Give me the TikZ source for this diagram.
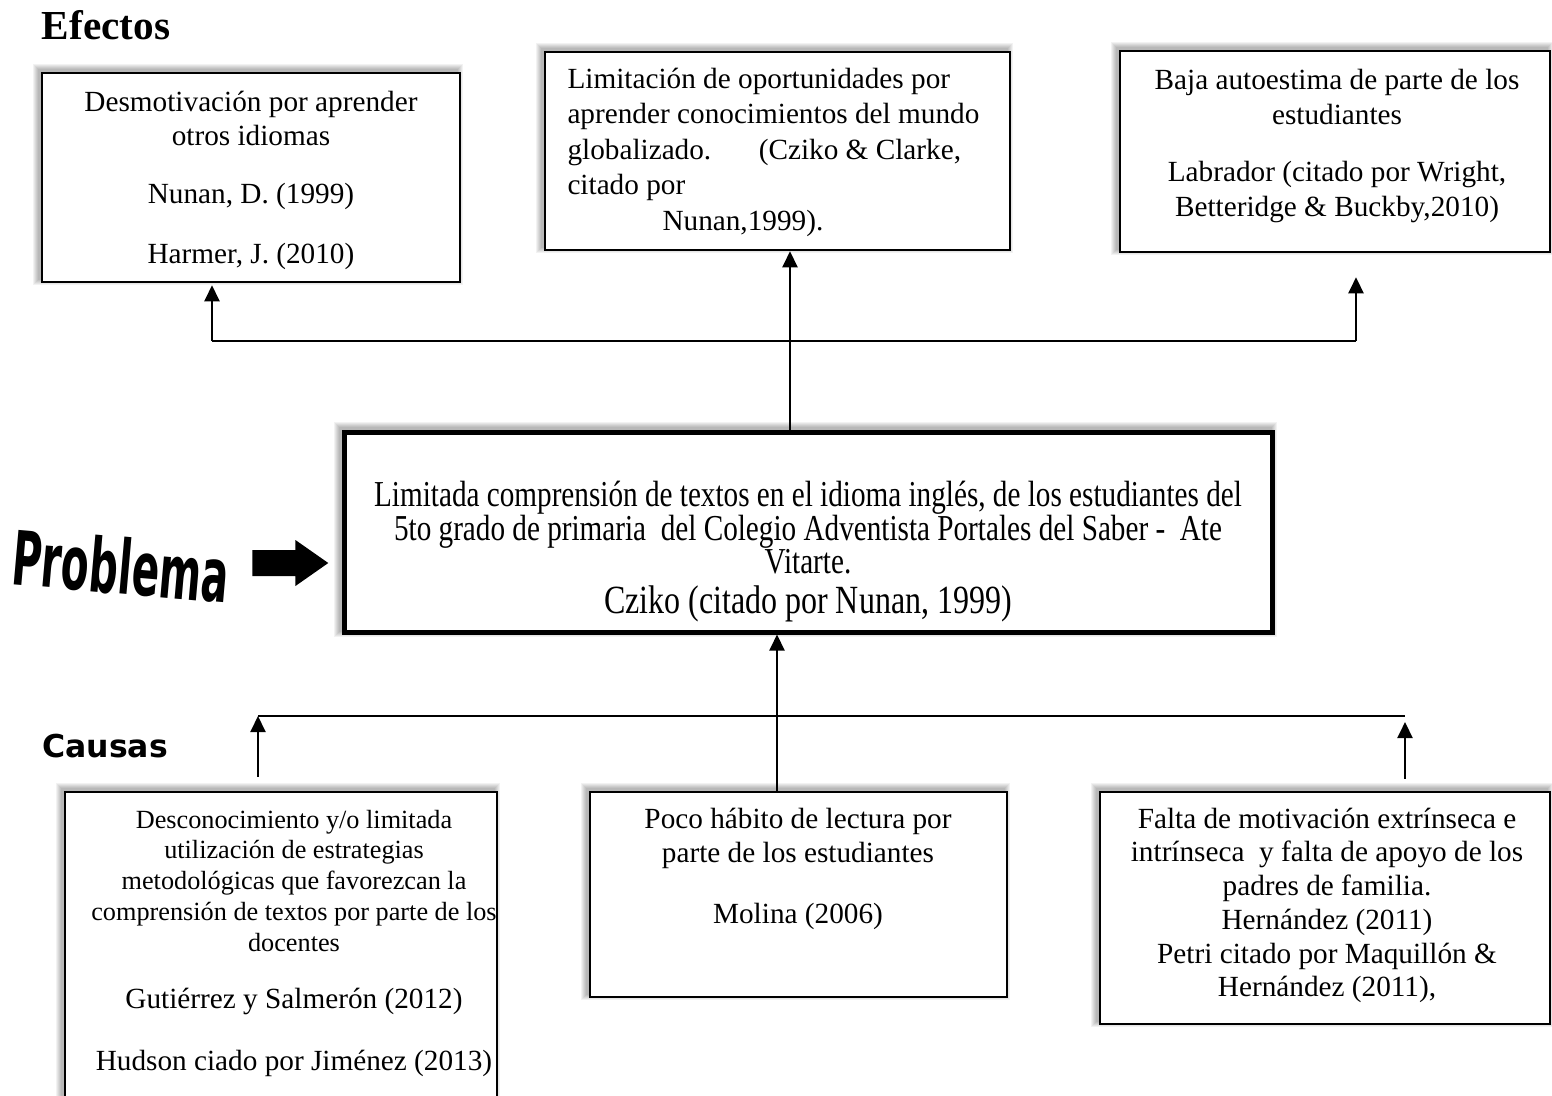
\documentclass[tikz,border=0pt]{standalone}
\usepackage{fontspec}
\setmainfont{Liberation Serif}
\newfontfamily\tallserif[FakeStretch=0.8]{Liberation Serif}
\newfontfamily\probfont[FakeStretch=0.6]{DejaVu Sans Condensed}
\newfontfamily\causefont{DejaVu Sans}
\usetikzlibrary{arrows.meta,calc,fit,shapes.arrows}
\pgfdeclarelayer{backdrop}
\pgfdeclarelayer{bg}
\pgfsetlayers{backdrop,bg,main}

% soft grey shadow falling to the upper left of a box
\newcommand{\softshadow}[1]{%
  \foreach \r in {0,...,5}{%
    \fill[black, opacity=0.05] ($(#1.north west)+(-3-\r,-3-\r)$) rectangle ($(#1.south east)+(-3+\r,-3+\r)$);
  }}

\tikzset{
  box/.style={draw=black, fill=white, line width=1pt, inner sep=0pt},
  mainbox/.style={box, line width=2pt},
  txt/.style={inner sep=0pt, align=center, font=\fontsize{11.7}{13.6}\selectfont},
  smalltxt/.style={inner sep=0pt, align=center, font=\fontsize{10.5}{12.3}\selectfont},
  talltxt/.style={inner sep=0pt, align=center, font=\tallserif\fontsize{14.6}{13.4}\selectfont},
  link/.style={line width=0.85pt, -{Triangle[width=6pt,length=6.4pt]}},
  bar/.style={line width=0.9pt},
}

\begin{document}
\begin{tikzpicture}[x=0.4pt,y=-0.4pt]
\useasboundingbox (0,0) rectangle (1552,1095);
\begin{pgfonlayer}{backdrop}
  \fill[white] (0,0) rectangle (1552,1095);
\end{pgfonlayer}

% ---------- section titles ----------
\node[inner sep=0pt, font=\bfseries\fontsize{16.5}{16.5}\selectfont] (efectos) at (106,25) {Efectos};
\node[inner sep=0pt, font=\causefont\bfseries\fontsize{12.6}{12.6}\selectfont] (causas) at (105,746) {Causas};

% ---------- effects ----------
\node[box, fit={(42,73) (460,282)}] (e1) {};
\node[txt] (e1a) at (251,118) {Desmotivación por aprender\\otros idiomas};
\node[txt] (e1b) at (251,196) {Nunan, D. (1999)};
\node[txt] (e1c) at (251,256) {Harmer, J. (2010)};

\node[box, fit={(545,52) (1010,250)}] (e2) {};
\node[inner sep=0pt, align=left, anchor=west, font=\fontsize{11.7}{14.2}\selectfont] (e2a) at (567,152)
  {Limitación de oportunidades por\\aprender conocimientos del mundo\\globalizado.\hspace*{19pt}(Cziko \& Clarke,\\citado por\\\hspace*{38pt}Nunan,1999).};

\node[box, fit={(1120,51) (1550,252)}] (e3) {};
\node[txt, font=\fontsize{11.7}{14}\selectfont] (e3a) at (1337,97) {Baja autoestima de parte de los\\estudiantes};
\node[txt, font=\fontsize{11.7}{14}\selectfont] (e3b) at (1337,192) {Labrador (citado por Wright,\\Betteridge \& Buckby,2010)};

% ---------- problem ----------
\node[mainbox, fit={(344,432) (1272,632)}] (p) {};
\node[talltxt] (pa) at (808,528) {Limitada comprensión de textos en el idioma inglés, de los estudiantes del\\5to grado de primaria\ \ del Colegio Adventista Portales del Saber -\ \ Ate\\Vitarte.};
\node[talltxt, font=\tallserif\fontsize{16}{18}\selectfont] (pb) at (808,604) {Cziko (citado por Nunan, 1999)};

\node[inner sep=0pt, rotate=-5, font=\probfont\bfseries\fontsize{30}{30}\selectfont] (prob) at (121,566) {Problema};
\node[single arrow, fill=black, draw=none, inner xsep=0pt, inner ysep=5pt,
  minimum height=30.4pt, single arrow head extend=4pt, single arrow tip angle=70] (parrow) at (281,563) {};

% ---------- causes ----------
\node[box, fit={(65,792) (497,1110)}] (c1) {};
\node[smalltxt] (c1a) at (294,880.5) {Desconocimiento y/o limitada\\utilización de estrategias\\metodológicas que favorezcan la\\comprensión de textos por parte de los\\docentes};
\node[txt] (c1b) at (294,1001) {Gutiérrez y Salmerón (2012)};
\node[txt] (c1c) at (294,1063) {Hudson ciado por Jiménez (2013)};

\node[box, fit={(590,792) (1007,997)}] (c2) {};
\node[txt] (c2a) at (798,838) {Poco hábito de lectura por\\parte de los estudiantes};
\node[txt] (c2b) at (798,916) {Molina (2006)};

\node[box, fit={(1100,792) (1550,1024)}] (c3) {};
\node[txt, font=\fontsize{11.7}{13.5}\selectfont] (c3a) at (1327,905.5) {Falta de motivación extrínseca e\\intrínseca\ \ y falta de apoyo de los\\padres de familia.\\Hernández (2011)\\Petri citado por Maquillón \&\\Hernández (2011),};

% ---------- shadows ----------
\begin{pgfonlayer}{bg}
  \softshadow{e1}\softshadow{e2}\softshadow{e3}
  \softshadow{p}
  \softshadow{c1}\softshadow{c2}\softshadow{c3}
\end{pgfonlayer}

% ---------- connectors: problem to effects ----------
\coordinate (tl) at (212,341);
\coordinate (tr) at (1356,341);
\coordinate (tm) at (790,341);
\draw[bar] (tl) -- (tr);
\draw[link] (tl) -- ($(tl |- e1.south)+(0,2)$);
\draw[link] (tr) -- ($(tr |- e3.south)+(0,24)$);
\draw[link] (p.north -| tm) -- (e2.south -| tm);

% ---------- connectors: causes to problem ----------
\coordinate (bl) at (258,716);
\coordinate (br) at (1405,716);
\coordinate (bm) at (777,716);
\draw[bar] (bl) -- (br);
\draw[link] ($(c1.north -| bl)+(0,-14)$) -- (bl);
\draw[link] ($(c3.north -| br)+(0,-12)$) -- ($(br)+(0,6)$);
\draw[link] (c2.north -| bm) -- (p.south -| bm);
\end{tikzpicture}
\end{document}
